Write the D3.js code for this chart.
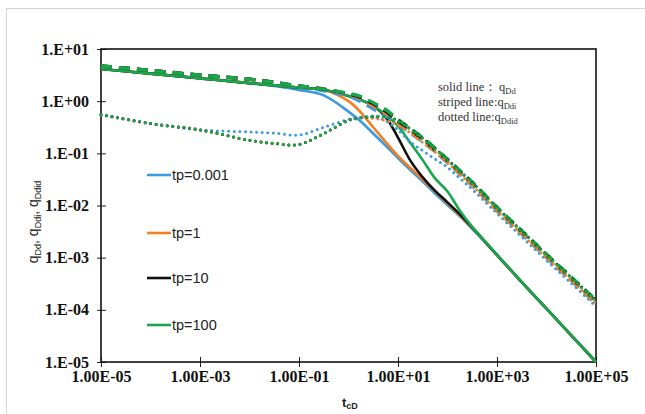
<!DOCTYPE html>
<html>
<head>
<meta charset="utf-8">
<script src="https://cdn.jsdelivr.net/npm/d3@7"></script>
<style>
  body { margin: 0; background: #fff; }
  svg { display: block; }
</style>
</head>
<body>
<svg id="chart" width="645" height="414"></svg>
<script>
// Dimensionless time grid shared by every curve
const tD = [1e-5, 1e-4, 1e-3, 1e-2, 0.0316, 0.1, 0.316, 1, 1.78, 3.16, 5.62, 10,
            17.8, 31.6, 56.2, 100, 178, 316, 1000, 3160, 1e4, 31600, 1e5];

// Solid lines: qDd
const qDd_tp0001 = [4.14, 3.37, 2.74, 2.21, 1.95, 1.64, 1.29, 0.631, 0.407, 0.240, 0.141, 0.0813,
                    0.0479, 0.0288, 0.0170, 0.01023, 0.00617, 0.00355, 0.00112, 0.000339, 0.000105, 3.24e-5, 1e-5];
const qDd_tp1    = [4.14, 3.37, 2.74, 2.22, 2.01, 1.82, 1.66, 1.00, 0.603, 0.316, 0.166, 0.0891,
                    0.0525, 0.0316, 0.0186, 0.01096, 0.00646, 0.00372, 0.00112, 0.000339, 0.000105, 3.24e-5, 1e-5];
const qDd_tp10   = [4.14, 3.37, 2.74, 2.22, 2.01, 1.82, 1.66, 1.26, 1.05, 0.813, 0.501, 0.200,
                    0.0724, 0.0347, 0.0191, 0.01148, 0.00676, 0.00380, 0.00113, 0.000339, 0.000105, 3.24e-5, 1e-5];
const qDd_tp100  = [4.14, 3.37, 2.74, 2.22, 2.01, 1.82, 1.66, 1.26, 1.05, 0.813, 0.550, 0.331,
                    0.158, 0.0741, 0.0331, 0.0186, 0.00794, 0.00389, 0.00114, 0.000339, 0.000105, 3.24e-5, 1e-5];

// Striped lines: qDdi
const qDdi_tp0001 = [4.72, 3.89, 3.16, 2.63, 2.29, 1.91, 1.58, 1.26, 0.977, 0.708, 0.525, 0.355,
                     0.245, 0.166, 0.107, 0.0661, 0.0398, 0.0240, 0.00794, 0.00282, 0.00100, 0.000363, 0.000132];
const qDdi_tp1    = [4.72, 3.89, 3.16, 2.63, 2.29, 1.95, 1.70, 1.35, 1.12, 0.813, 0.589, 0.380,
                     0.257, 0.174, 0.112, 0.0692, 0.0417, 0.0251, 0.00832, 0.00295, 0.00105, 0.000380, 0.000138];
const qDdi_tp10   = [4.72, 3.89, 3.16, 2.63, 2.29, 1.95, 1.70, 1.38, 1.175, 0.891, 0.646, 0.417,
                     0.282, 0.186, 0.117, 0.0741, 0.0447, 0.0269, 0.00891, 0.00316, 0.00112, 0.000407, 0.000148];
const qDdi_tp100  = [4.72, 3.89, 3.16, 2.63, 2.29, 1.95, 1.70, 1.41, 1.23, 0.933, 0.692, 0.447,
                     0.302, 0.200, 0.126, 0.0776, 0.0468, 0.0282, 0.00933, 0.00331, 0.00117, 0.000427, 0.000155];

// Dotted lines: qDdid
const qDdid_tp0001 = [0.550, 0.372, 0.282, 0.257, 0.245, 0.224, 0.316, 0.447, 0.490, 0.501, 0.417, 0.282,
                      0.166, 0.112, 0.0776, 0.0537, 0.0331, 0.0204, 0.00708, 0.00251, 0.000891, 0.000324, 0.000117];
const qDdid_tp1    = [0.550, 0.372, 0.282, 0.178, 0.155, 0.148, 0.240, 0.427, 0.479, 0.468, 0.427, 0.347,
                      0.245, 0.162, 0.105, 0.0661, 0.0398, 0.0240, 0.00794, 0.00282, 0.00100, 0.000363, 0.000132];
const qDdid_tp10   = [0.550, 0.372, 0.282, 0.178, 0.155, 0.148, 0.240, 0.427, 0.479, 0.513, 0.501, 0.427,
                      0.295, 0.195, 0.123, 0.0759, 0.0457, 0.0275, 0.00912, 0.00324, 0.00115, 0.000417, 0.000151];
const qDdid_tp100  = [0.550, 0.372, 0.282, 0.178, 0.155, 0.148, 0.240, 0.427, 0.479, 0.513, 0.501, 0.417,
                      0.288, 0.191, 0.120, 0.0741, 0.0447, 0.0269, 0.00891, 0.00316, 0.00112, 0.000407, 0.000148];

const tpLabels = ["tp=0.001", "tp=1", "tp=10", "tp=100"];
const tpColors = ["#3a9be0", "#f47f20", "#111111", "#16a84a"];

const xTickValues = [1e-5, 1e-3, 1e-1, 1e1, 1e3, 1e5];
const xTickLabels = ["1.00E-05", "1.00E-03", "1.00E-01", "1.00E+01", "1.00E+03", "1.00E+05"];
const yTickValues = [1e-5, 1e-4, 1e-3, 1e-2, 1e-1, 1e0, 1e1];
const yTickLabels = ["1.E-05", "1.E-04", "1.E-03", "1.E-02", "1.E-01", "1.E+00", "1.E+01"];

const svg = d3.select("#chart");

// light outer frame of the chart area
svg.append("rect")
  .attr("x", 6.5).attr("y", 8.5).attr("width", 660).attr("height", 430)
  .attr("fill", "none").attr("stroke", "#d4d4d4").attr("stroke-width", 1);

const plot = { left: 101, right: 596, top: 49, bottom: 362 };
const x = d3.scaleLog().domain([1e-5, 1e5]).range([plot.left, plot.right]);
const y = d3.scaleLog().domain([1e-5, 1e1]).range([plot.bottom, plot.top]);

// minor ticks: 2..9 within each decade, plus unlabeled decades on x
const xMinor = [], yMinor = [];
for (let e = -5; e < 5; e++) {
  for (let m = 1; m <= 9; m++) {
    const v = m * Math.pow(10, e);
    if (!xTickValues.includes(v) && v < 1e5) xMinor.push(v);
  }
}
for (let e = -5; e < 1; e++) {
  for (let m = 2; m <= 9; m++) yMinor.push(m * Math.pow(10, e));
}

const tickFont = "'Liberation Serif', 'Times New Roman', serif";

// x axis
const gx = svg.append("g").attr("transform", `translate(0,${plot.bottom})`);
gx.call(d3.axisBottom(x).tickValues(xMinor).tickSize(-4).tickFormat(""));
gx.call(d3.axisBottom(x).tickValues(xTickValues).tickSize(-5).tickFormat(""));
gx.append("g").call(d3.axisBottom(x).tickValues(xTickValues).tickSize(5).tickPadding(4)
  .tickFormat((d, i) => xTickLabels[i]));

// y axis
const gy = svg.append("g").attr("transform", `translate(${plot.left},0)`);
gy.call(d3.axisLeft(y).tickValues(yMinor).tickSize(-4).tickFormat(""));
gy.call(d3.axisLeft(y).tickValues(yTickValues).tickSize(-5).tickFormat(""));
gy.append("g").call(d3.axisLeft(y).tickValues(yTickValues).tickSize(4).tickPadding(8)
  .tickFormat((d, i) => yTickLabels[i]));

svg.selectAll(".domain").remove();
svg.selectAll(".tick line").attr("stroke", "#222").attr("stroke-width", 1);
svg.selectAll(".tick text")
  .attr("font-family", tickFont).attr("font-size", 16).attr("font-weight", "bold").attr("fill", "#111");

// plot frame
svg.append("rect")
  .attr("x", plot.left).attr("y", plot.top)
  .attr("width", plot.right - plot.left).attr("height", plot.bottom - plot.top)
  .attr("fill", "none").attr("stroke", "#111").attr("stroke-width", 1.6);

// curves
const line = d3.line()
  .x(d => x(d[0])).y(d => y(d[1]))
  .curve(d3.curveCatmullRom.alpha(0.5));

const solid = [qDd_tp0001, qDd_tp1, qDd_tp10, qDd_tp100];
const striped = [qDdi_tp0001, qDdi_tp1, qDdi_tp10, qDdi_tp100];
const dotted = [qDdid_tp0001, qDdid_tp1, qDdid_tp10, qDdid_tp100];

const curves = svg.append("g");
function drawSet(set, width, dash, cap) {
  set.forEach((vals, i) => {
    curves.append("path")
      .attr("d", line(tD.map((t, k) => [t, vals[k]])))
      .attr("fill", "none")
      .attr("stroke", tpColors[i])
      .attr("stroke-width", width)
      .attr("stroke-linecap", cap)
      .attr("stroke-linejoin", "round")
      .attr("stroke-dasharray", dash);
  });
}
drawSet(solid, 2.6, null, "butt");
drawSet(striped, 3.4, "11,7", "butt");
drawSet(dotted, 3.0, "0,5.6", "round");

// legend
const legendY = [175, 233, 278, 325];
const legend = svg.append("g");
tpLabels.forEach((lab, i) => {
  legend.append("line")
    .attr("x1", 147).attr("x2", 171).attr("y1", legendY[i]).attr("y2", legendY[i])
    .attr("stroke", tpColors[i]).attr("stroke-width", 2.6);
  legend.append("text")
    .attr("x", 172).attr("y", legendY[i]).attr("dy", "0.36em")
    .attr("font-family", "'Liberation Sans', Arial, sans-serif").attr("font-size", 14.5)
    .attr("fill", "#222").text(lab);
});

// note on line styles
const noteFont = "'Liberation Serif', 'Times New Roman', serif";
const note = svg.append("g").attr("font-family", noteFont).attr("font-size", 12.5).attr("fill", "#333");
const noteRows = [
  { label: "solid line\uFF1A", sub: "Dd", y: 91, qx: 499 },
  { label: "striped line:", sub: "Ddi", y: 106, qx: null },
  { label: "dotted line:", sub: "Ddid", y: 121, qx: null }
];
noteRows.forEach(r => {
  const t = note.append("text").attr("x", 438).attr("y", r.y);
  t.append("tspan").text(r.label);
  const q = t.append("tspan").text("q");
  if (r.qx) q.attr("x", r.qx);
  t.append("tspan").attr("font-size", 8.5).attr("dy", 2.5).text(r.sub);
});

// axis titles
const xt = svg.append("text").attr("x", 342).attr("y", 407)
  .attr("font-family", "'Liberation Sans', Arial, sans-serif").attr("font-weight", "bold")
  .attr("font-size", 13).attr("fill", "#222");
xt.append("tspan").text("t");
xt.append("tspan").attr("font-size", 9).attr("dy", 2).text("cD");

const yt = svg.append("text")
  .attr("transform", "translate(38,222) rotate(-90)")
  .attr("text-anchor", "middle")
  .attr("font-family", "'Liberation Sans', Arial, sans-serif")
  .attr("font-size", 14).attr("fill", "#222");
[["q", "Dd", ", "], ["q", "Ddi", ", "], ["q", "Ddid", ""]].forEach(p => {
  yt.append("tspan").attr("dy", 0).text(p[0]);
  yt.append("tspan").attr("font-size", 9).attr("dy", 3).text(p[1]);
  yt.append("tspan").attr("dy", -3).text(p[2]);
});
</script>
</body>
</html>
